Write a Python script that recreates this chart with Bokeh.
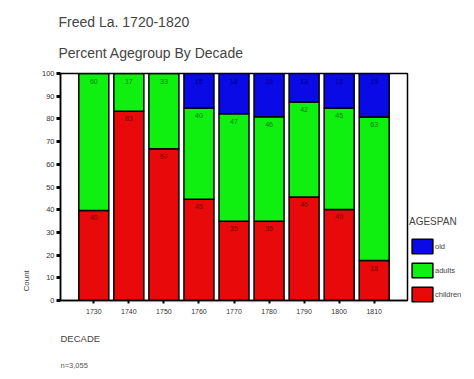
from bokeh.plotting import figure
from bokeh.models import ColumnDataSource, Legend, LegendItem, Title, Range1d
from bokeh.embed import file_html
from bokeh.resources import INLINE

decades = ["1730", "1740", "1750", "1760", "1770", "1780", "1790", "1800", "1810"]
children = [39.7, 83.4, 66.8, 44.6, 34.9, 34.9, 45.6, 40.1, 17.6]
adults = [60.3, 16.6, 33.2, 40.2, 47.4, 46.0, 41.8, 44.7, 63.2]
old = [0.0, 0.0, 0.0, 15.2, 17.7, 19.1, 12.6, 15.2, 19.2]
y_ticks = [0, 10, 20, 30, 40, 50, 60, 70, 80, 90, 100]

RED = "#E80A0A"
GREEN = "#10F010"
BLUE = "#0A0AE6"

src = ColumnDataSource(dict(decade=decades, children=children, adults=adults, old=old))

p = figure(x_range=decades, y_range=Range1d(0, 100),
           frame_width=347, frame_height=227,
           output_backend="svg", toolbar_location=None,
           min_border_left=60, min_border_right=67, min_border_top=73, min_border_bottom=79)
p.x_range.range_padding = 0.1

rs = p.vbar_stack(["children", "adults", "old"], x="decade", width=0.856, source=src,
                  color=[RED, GREEN, BLUE], line_color="black", line_width=1.5)

# value labels near the top of each segment
lx, ly, lt, lc = [], [], [], []
for i, d in enumerate(decades):
    base = 0.0
    for vals, col in ((children, "#7a0000"), (adults, "#0b7a0b"), (old, "#00007a")):
        v = vals[i]
        top = base + v
        if v > 0:
            lx.append(d)
            ly.append(top)
            lt.append(str(int(round(v))))
            lc.append(col)
        base = top
lsrc = ColumnDataSource(dict(x=lx, y=ly, t=lt, c=lc))
p.text(x="x", y="y", text="t", source=lsrc, text_color="c", text_font_size="7px",
       text_align="center", text_baseline="top", y_offset=5)

p.xgrid.visible = False
p.ygrid.visible = False
p.outline_line_color = "black"
p.outline_line_width = 1.5
p.background_fill_color = "white"
p.border_fill_color = "white"

p.yaxis.ticker = y_ticks
p.yaxis.minor_tick_line_color = None
p.yaxis.major_tick_in = 0
p.yaxis.major_tick_out = 4
p.yaxis.major_tick_line_width = 3
p.yaxis.major_label_standoff = 2
p.yaxis.major_label_text_font = "Liberation Sans"
p.yaxis.major_label_text_font_size = "7.5px"
p.yaxis.major_label_text_color = "#333333"
p.yaxis.axis_line_width = 1.5

p.xaxis.major_tick_in = 0
p.xaxis.major_tick_out = 3
p.xaxis.major_tick_line_width = 2
p.xaxis.major_label_standoff = 5
p.xaxis.major_label_text_font = "Liberation Sans"
p.xaxis.major_label_text_font_size = "7px"
p.xaxis.major_label_text_color = "#333333"
p.xaxis.axis_line_width = 1.5

p.title.text = "Freed La. 1720-1820"
p.title.text_font = "Liberation Sans"
p.title.text_font_size = "14px"
p.title.text_font_style = "normal"
p.title.offset = -2
p.title.standoff = 0
p.add_layout(Title(text="Percent Agegroup By Decade", text_font="Liberation Sans", text_font_size="14px",
                   text_font_style="normal", offset=-2, standoff=26), "above")

p.add_layout(Title(text="Count", text_font="Liberation Sans", text_font_size="8px",
                   text_font_style="normal", align="left", offset=9, standoff=16), "left")
p.add_layout(Title(text="DECADE", text_font="Liberation Sans", text_font_size="9.5px",
                   text_font_style="normal", align="left", standoff=29), "below")
p.add_layout(Title(text="n=3,055", text_font="Liberation Sans", text_font_size="7.5px",
                   text_font_style="normal", text_color="#555555", align="left", standoff=0), "below")

legend = Legend(items=[LegendItem(label="old", renderers=[rs[2]]),
                       LegendItem(label="adults", renderers=[rs[1]]),
                       LegendItem(label="children", renderers=[rs[0]])],
                title="AGESPAN", title_text_font="Liberation Sans", title_text_font_size="10px",
                title_text_font_style="normal", title_standoff=10,
                label_text_font="Liberation Sans", label_text_font_size="7.5px",
                glyph_width=26, glyph_height=18, label_height=18, label_standoff=0,
                spacing=6, padding=1, margin=0, border_line_color=None,
                background_fill_alpha=0, location=(2, -3))
p.add_layout(legend, "right")

open("out.html", "w").write(file_html(p, INLINE))
